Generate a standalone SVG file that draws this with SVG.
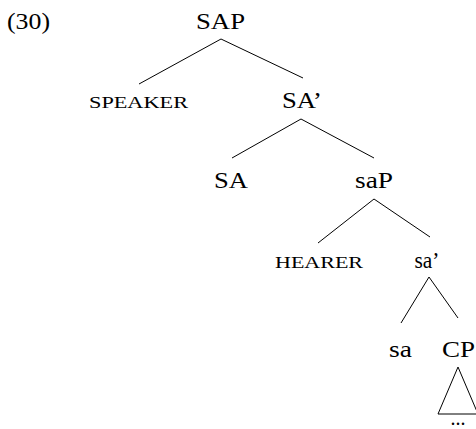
<svg xmlns="http://www.w3.org/2000/svg" width="476" height="429" viewBox="0 0 476 429">
<style>
text{font-family:"Liberation Serif","DejaVu Serif",serif;fill:#000;text-anchor:middle}
.n{font-size:23.5px}
.sc{font-size:16.5px}
.e{stroke:#000;stroke-width:1;fill:none}
</style>
<rect width="476" height="429" fill="#fff"/>
<text x="7" y="29" class="n" style="text-anchor:start" textLength="43" lengthAdjust="spacingAndGlyphs">(30)</text>
<g id="SAP"><text x="220.5" y="29" class="n" textLength="49" lengthAdjust="spacingAndGlyphs">SAP</text></g>
<g id="SPEAKER"><text x="138.5" y="108" class="sc" textLength="99" lengthAdjust="spacingAndGlyphs">SPEAKER</text></g>
<g id="SAbar"><text x="302" y="108" class="n" textLength="40" lengthAdjust="spacingAndGlyphs">SA’</text></g>
<g id="SA"><text x="231" y="188" class="n" textLength="34" lengthAdjust="spacingAndGlyphs">SA</text></g>
<g id="saP"><text x="374" y="188" class="n" textLength="38" lengthAdjust="spacingAndGlyphs">saP</text></g>
<g id="HEARER"><text x="319" y="268" class="sc" textLength="88" lengthAdjust="spacingAndGlyphs">HEARER</text></g>
<g id="sabar"><text x="427" y="268" class="n" textLength="25" lengthAdjust="spacingAndGlyphs">sa’</text></g>
<g id="sa"><text x="400.5" y="357" class="n" textLength="23" lengthAdjust="spacingAndGlyphs">sa</text></g>
<g id="CP"><text x="458.5" y="357" class="n" textLength="33" lengthAdjust="spacingAndGlyphs">CP</text></g>
<g id="dots"><text x="458" y="425" class="n" style="font-size:20px">...</text></g>
<g id="connectors">
<line class="e" x1="221" y1="39" x2="139" y2="84"/>
<line class="e" x1="221" y1="39" x2="303" y2="78"/>
<line class="e" x1="301" y1="119" x2="232" y2="158"/>
<line class="e" x1="301" y1="119" x2="374" y2="158"/>
<line class="e" x1="374" y1="199" x2="318" y2="243"/>
<line class="e" x1="374" y1="199" x2="430" y2="237"/>
<line class="e" x1="429" y1="277" x2="401" y2="323"/>
<line class="e" x1="429" y1="277" x2="458" y2="318"/>
<polygon class="e" points="458,367 438,414 478,414"/>
</g>
</svg>
